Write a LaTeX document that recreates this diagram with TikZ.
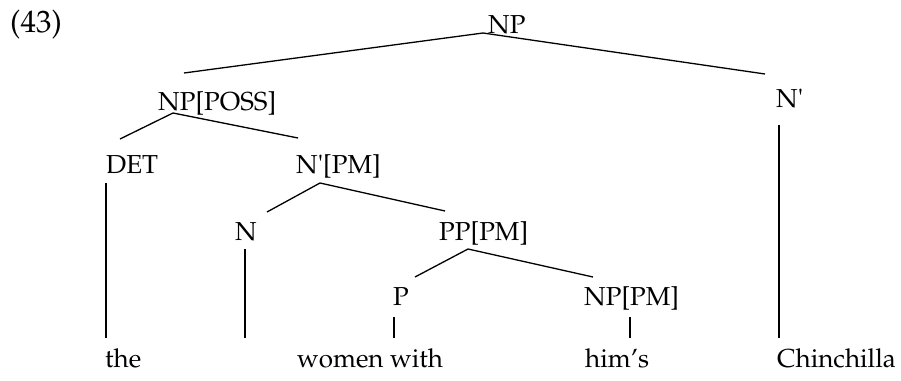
\documentclass[tikz,border=0pt]{standalone}
\usepackage[T1]{fontenc}
\usepackage{mathpazo}
\begin{document}
\begin{tikzpicture}[x=1pt,y=-1pt,
  lab/.style={anchor=base west,inner sep=0pt,font=\fontsize{26}{30}\selectfont},
  edge/.style={line width=1.3pt}]
\useasboundingbox (0,0) rectangle (901,380);
% labels
\node[lab,font=\fontsize{31}{36}\selectfont] (ex) at (10,32) {(43)};
\node[lab] (np) at (488,33) {NP};
\node[lab] (nbar) at (776,107) {N\textquotesingle};
\node[lab] (poss) at (158,110) {NP[POSS]};
\node[lab] (det) at (106,173) {DET};
\node[lab] (nbarpm) at (296,173) {N\textquotesingle[PM]};
\node[lab] (n) at (235,240) {N};
\node[lab] (pp) at (439,240) {PP[PM]};
\node[lab] (p) at (393,305) {P};
\node[lab] (nppm) at (584,305) {NP[PM]};
\node[lab] (the) at (105,367) {the};
\node[lab] (women) at (297,367) {women with};
\node[lab] (hims) at (585,367) {him\textquoteright s};
\node[lab] (chin) at (777,367) {Chinchilla};
% attachment points
\coordinate (np-b) at (483,33);
\coordinate (poss-t) at (184,73);
\coordinate (nbar-t) at (765,74);
\coordinate (poss-b) at (173,113);
\coordinate (det-t) at (120,139);
\coordinate (nbarpm-t) at (298,138);
\coordinate (det-b) at (106,183);
\coordinate (the-t) at (106,338);
\coordinate (nbarpm-b) at (320,183);
\coordinate (n-t) at (267,212);
\coordinate (pp-t) at (445,211);
\coordinate (n-b) at (245,249);
\coordinate (women-t1) at (245,338);
\coordinate (pp-b) at (468,249);
\coordinate (p-t) at (415,277);
\coordinate (nppm-t) at (593,277);
\coordinate (p-b) at (394,317);
\coordinate (women-t2) at (394,338);
\coordinate (nppm-b) at (630,317);
\coordinate (hims-t) at (630,338);
\coordinate (nbar-b) at (779,125);
\coordinate (chin-t) at (779,338);
% connectors
\draw[edge] (poss-t) -- (np-b) -- (nbar-t);
\draw[edge] (det-t) -- (poss-b) -- (nbarpm-t);
\draw[edge] (det-b) -- (the-t);
\draw[edge] (n-t) -- (nbarpm-b) -- (pp-t);
\draw[edge] (n-b) -- (women-t1);
\draw[edge] (p-t) -- (pp-b) -- (nppm-t);
\draw[edge] (p-b) -- (women-t2);
\draw[edge] (nppm-b) -- (hims-t);
\draw[edge] (nbar-b) -- (chin-t);
\end{tikzpicture}
\end{document}
